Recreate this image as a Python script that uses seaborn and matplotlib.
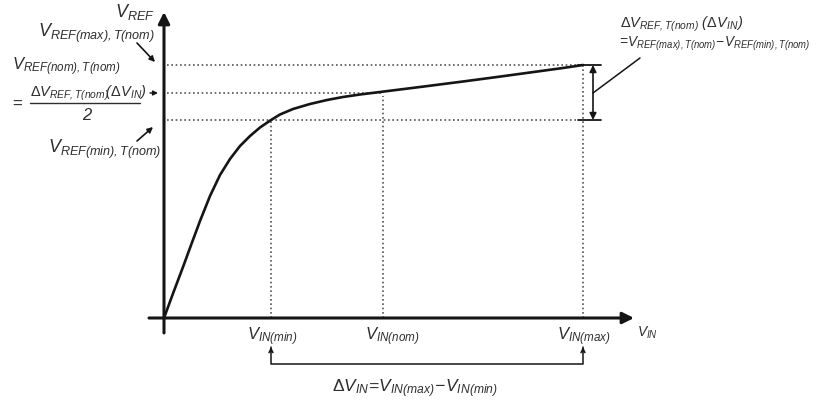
import matplotlib
matplotlib.use("Agg")
import matplotlib.pyplot as plt
import seaborn as sns
import pandas as pd

# ---------------- data (arbitrary units) ----------------
vin_curve = [0.00, 0.09, 0.19, 0.28, 0.36, 0.46, 0.56, 0.66, 0.76, 0.86, 0.96,
             1.07, 1.16, 1.29, 1.46, 1.63, 1.79, 1.96, 2.16, 2.36, 2.56, 2.99,
             3.33, 3.66, 3.99, 4.19]
vref_curve = [0.00, 0.245, 0.51, 0.755, 0.97, 1.22, 1.43, 1.59, 1.72, 1.82, 1.905,
              1.98, 2.035, 2.09, 2.14, 2.18, 2.21, 2.235, 2.26, 2.285, 2.31, 2.365,
              2.41, 2.455, 2.50, 2.53]

vin_marks = [1.07, 2.19, 4.19]       # V_IN(min), V_IN(nom), V_IN(max)
vref_marks = [1.98, 2.25, 2.53]      # V_REF(min), V_REF(nom), V_REF(max)

vin_labels = [r"$V_{IN(min)}$", r"$V_{IN(nom)}$", r"$V_{IN(max)}$"]

# ---------------- style ----------------
sns.set_style("white")
plt.rcParams["font.family"] = ["Liberation Sans", "DejaVu Sans"]
plt.rcParams["mathtext.fontset"] = "custom"
plt.rcParams["mathtext.it"] = "Liberation Sans:italic"
plt.rcParams["mathtext.rm"] = "Liberation Sans:italic"
plt.rcParams["mathtext.sf"] = "Liberation Sans"
plt.rcParams["mathtext.bf"] = "Liberation Sans:bold"

LINE = "#151515"
TXT = "#2e2e2e"
DOT = "#555555"

fig = plt.figure(figsize=(8.17, 4.03), dpi=100)
ax = fig.add_axes([0, 0, 1, 1])
ax.set_xlim(-1.64, 6.53)
ax.set_ylim(-0.85, 3.18)
ax.axis("off")


def P(px, py):
    """convert a picture pixel position to data coordinates (for annotations)"""
    return ((px - 164) / 100.0, (318 - py) / 100.0)


# ---------------- axes with arrows ----------------
ax.annotate("", xy=P(164, 12), xytext=P(164, 333),
            arrowprops=dict(arrowstyle="-|>", color=LINE, lw=2.2,
                            mutation_scale=17, shrinkA=0, shrinkB=0))
ax.annotate("", xy=P(634, 318), xytext=P(149, 318),
            arrowprops=dict(arrowstyle="-|>", color=LINE, lw=2.2,
                            mutation_scale=17, shrinkA=0, shrinkB=0))

# ---------------- dotted guide lines ----------------
dot_style = dict(color=DOT, lw=1.2, linestyle=(0, (1, 1.6)))
x_left = P(167, 0)[0]
x_bar0 = P(578, 0)[0]
x_bar1 = P(601, 0)[0]
x_darrow = P(593, 0)[0]
# horizontal
ax.plot([x_left, x_bar0], [vref_marks[2]] * 2, **dot_style)
ax.plot([x_left, vin_marks[1]], [vref_marks[1]] * 2, **dot_style)
ax.plot([x_left, x_bar0], [vref_marks[0]] * 2, **dot_style)
# vertical
ax.plot([vin_marks[0]] * 2, [0, vref_marks[0]], **dot_style)
ax.plot([vin_marks[1]] * 2, [0, vref_marks[1] - 0.03], **dot_style)
ax.plot([vin_marks[2]] * 2, [0, vref_marks[2]], **dot_style)

# ---------------- main curve ----------------
df = pd.DataFrame({"VIN": vin_curve, "VREF": vref_curve})
sns.lineplot(data=df, x="VIN", y="VREF", ax=ax, color=LINE, lw=1.9,
             sort=False, estimator=None)
ax.set_xlabel("")
ax.set_ylabel("")
ax.axis("off")

# ---------------- delta V_REF bracket ----------------
ax.plot([x_bar0, x_bar1], [vref_marks[2]] * 2, color=LINE, lw=1.3)
ax.plot([x_bar0, x_bar1], [vref_marks[0]] * 2, color=LINE, lw=1.3)
ax.annotate("", xy=(x_darrow, vref_marks[2]), xytext=(x_darrow, vref_marks[0]),
            arrowprops=dict(arrowstyle="<|-|>", color=LINE, lw=1.2,
                            mutation_scale=10, shrinkA=0, shrinkB=0))
ax.plot([x_darrow, P(640, 0)[0]], [vref_marks[1], P(0, 58)[1]], color=LINE, lw=1.1)

ax.text(*P(620, 28), r"$\mathsf{\Delta}V_{REF,T(nom)}\ (\mathsf{\Delta}V_{IN})$",
        fontsize=10.5, color=TXT, ha="left", va="baseline")
ax.text(*P(617, 47), r"$=\!V_{REF(max),T(nom)}\!-\!V_{REF(min),T(nom)}$",
        fontsize=9.8, color=TXT, ha="left", va="baseline")

# ---------------- delta V_IN bracket ----------------
y_top = P(0, 347)[1]
y_bot = P(0, 364)[1]
ax.plot([vin_marks[0], vin_marks[0], vin_marks[2], vin_marks[2]],
        [y_top, y_bot, y_bot, y_top], color=LINE, lw=1.1)
for xv in (vin_marks[0], vin_marks[2]):
    ax.annotate("", xy=(xv, y_top), xytext=(xv, y_top - 0.05),
                arrowprops=dict(arrowstyle="->", color=LINE, lw=1.1,
                                mutation_scale=7, shrinkA=0, shrinkB=0))
ax.text(*P(415, 392), r"$\mathsf{\Delta}V_{IN}\!=\!V_{IN(max)}\!-\!V_{IN(min)}$",
        fontsize=12.5, color=TXT, ha="center", va="baseline")

# ---------------- x labels ----------------
for px_left, lab in zip([247, 365, 557], vin_labels):
    ax.text(*P(px_left, 340), lab, fontsize=12, color=TXT, ha="left", va="baseline")
ax.text(*P(637, 337), r"$V_{IN}$", fontsize=10, color=TXT, ha="left", va="baseline")

# ---------------- y labels ----------------
ax.text(*P(115, 17), r"$V_{REF}$", fontsize=13, color=TXT, ha="left", va="baseline")
ax.text(*P(38, 37), r"$V_{REF(max),T(nom)}$", fontsize=13, color=TXT,
        ha="left", va="baseline")
ax.text(*P(12, 70), r"$V_{REF(nom),T(nom)}$", fontsize=12, color=TXT,
        ha="left", va="baseline")
ax.text(*P(12, 109), "=", fontsize=12, color=TXT, ha="left", va="baseline",
        family=["Liberation Sans"])
ax.text(*P(30, 97), r"$\mathsf{\Delta}V_{REF,T(nom)}\!(\mathsf{\Delta}V_{IN})$",
        fontsize=10.5, color=TXT, ha="left", va="baseline")
ax.plot([P(30, 0)[0], P(140, 0)[0]], [P(0, 103)[1]] * 2, color=TXT, lw=1.0)
ax.text(*P(88, 120), r"$2$", fontsize=12, color=TXT, ha="center", va="baseline")
ax.text(*P(48, 153), r"$V_{REF(min),T(nom)}$", fontsize=13, color=TXT,
        ha="left", va="baseline")

# small pointer arrows
ax.annotate("", xy=P(155, 62), xytext=P(137, 43),
            arrowprops=dict(arrowstyle="-|>", color=LINE, lw=1.2,
                            mutation_scale=8, shrinkA=0, shrinkB=0))
ax.annotate("", xy=P(158, 93), xytext=P(150, 93),
            arrowprops=dict(arrowstyle="-|>", color=LINE, lw=1.0,
                            mutation_scale=7, shrinkA=0, shrinkB=0))
ax.annotate("", xy=P(153, 127), xytext=P(137, 141),
            arrowprops=dict(arrowstyle="-|>", color=LINE, lw=1.2,
                            mutation_scale=8, shrinkA=0, shrinkB=0))

fig.savefig("out.png", dpi=100, facecolor="white")
